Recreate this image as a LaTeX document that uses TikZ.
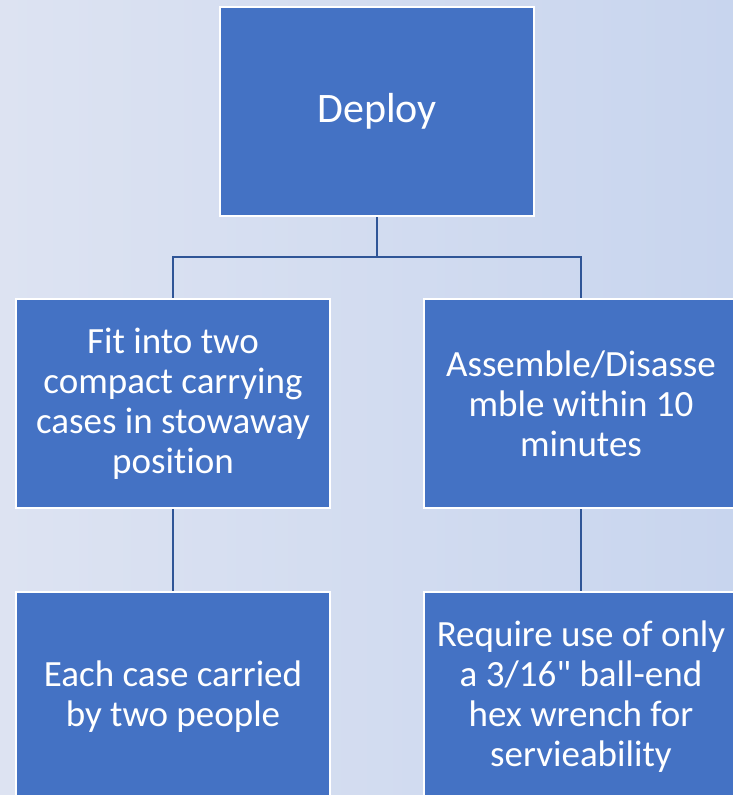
\documentclass[tikz,border=0pt]{standalone}
\usepackage{fontspec}
\newfontfamily\calfont{Carlito}[Ligatures={NoCommon}]
\definecolor{boxblue}{HTML}{4472C4}
\definecolor{lineblue}{HTML}{2F5597}
\definecolor{bgleft}{HTML}{DDE3F2}
\definecolor{bgright}{HTML}{C8D5EE}
\begin{document}
\begin{tikzpicture}[x=1pt,y=-1pt,
  box/.style={draw=white, line width=2pt, fill=boxblue, text=white,
    minimum width=314pt, minimum height=209pt, inner sep=0pt, align=center,
    font=\calfont\fontsize{37}{40}\selectfont},
  conn/.style={draw=lineblue, line width=2pt}]
\useasboundingbox (0,0) rectangle (733,795);
\clip (0,0) rectangle (733,795);
\shade[left color=bgleft, right color=bgright] (0,0) rectangle (733,795);
\coordinate (j) at (377,257);
\node[box, font=\calfont\fontsize{42}{46}\selectfont] (deploy) at (377,111.5) {Deploy};
\node[box] (fit) at (173,403.5) {Fit into two\\compact carrying\\cases in stowaway\\position};
\node[box] (asm) at (581,403.5) {Assemble/Disasse\\mble within 10\\minutes};
\node[box] (each) at (173,696.5) {Each case carried\\by two people};
\node[box] (req) at (581,696.5) {Require use of only\\a 3/16" ball-end\\hex wrench for\\servieability};
\draw[conn] (deploy.south) -- (j);
\draw[conn] (j) -| (fit.north);
\draw[conn] (j) -| (asm.north);
\draw[conn] (fit.south) -- (each.north);
\draw[conn] (asm.south) -- (req.north);
\end{tikzpicture}
\end{document}
